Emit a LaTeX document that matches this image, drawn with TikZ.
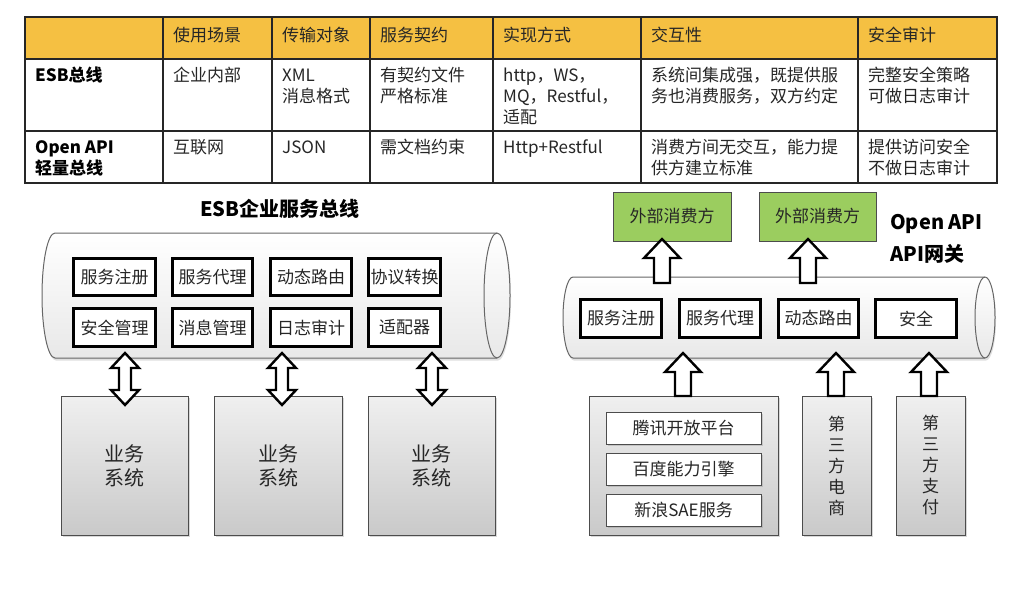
\documentclass[tikz,border=0pt]{standalone}
\usepackage{fontspec}
\setmainfont{Noto Sans CJK SC}
\usetikzlibrary{shadows}
\definecolor{hdr}{RGB}{245,192,66}
\definecolor{grn}{RGB}{155,205,95}
\definecolor{txt}{RGB}{38,38,38}
\newcommand\fsz[2]{\fontsize{#1}{#2}\selectfont}
\newcommand\stt{\rule{0pt}{16pt}}
\newcommand\blkup[3]{\draw[blkarrow] (#1,#2) -- (#1+18,#2+19) -- (#1+8,#2+19) -- (#1+8,#3) -- (#1-8,#3) -- (#1-8,#2+19) -- (#1-18,#2+19) -- cycle;}
\newcommand\blkdbl[3]{\draw[blkarrow] (#1,#2) -- (#1+14,#2+15) -- (#1+6,#2+15) -- (#1+6,#3-15) -- (#1+14,#3-15) -- (#1,#3) -- (#1-14,#3-15) -- (#1-6,#3-15) -- (#1-6,#2+15) -- (#1-14,#2+15) -- cycle;}
\tikzset{
  cell/.style={anchor=north west, align=left, inner sep=0pt, font=\fsz{17}{21}, text=txt},
  cellb/.style={cell, font=\fsz{17}{21}\bfseries, text=black},
  tline/.style={draw=black!85, line width=1.6pt},
  ibox/.style={draw=black, line width=2.8pt, fill=white, inner sep=0pt, font=\fsz{17}{21}, text=txt},
  sysbox/.style={draw=black!70, line width=1pt, top color=gray!12, bottom color=gray!42, inner sep=0pt,
     drop shadow={shadow xshift=1.5pt, shadow yshift=-2pt, opacity=0.3}, text=txt},
  wbox/.style={draw=black!70, line width=1pt, fill=white, inner sep=0pt, font=\fsz{17}{21}, text=txt,
     drop shadow={shadow xshift=1.5pt, shadow yshift=-1.5pt, opacity=0.3}},
  gbox/.style={draw=black!70, line width=1pt, fill=grn, inner sep=0pt, font=\fsz{17}{21}, text=txt},
  cyl/.style={draw=black!60, line width=1pt, top color=white, bottom color=gray!18,
     drop shadow={shadow xshift=1pt, shadow yshift=-2.5pt, opacity=0.25}},
  blkarrow/.style={draw=black, line width=2.4pt, fill=white, line join=miter},
  ttl/.style={inner sep=0pt, font=\fsz{20}{32}\bfseries, text=black, align=left}
}
\begin{document}
\begin{tikzpicture}[x=1pt,y=-1pt]
\useasboundingbox[fill=white] (0,0) rectangle (1024,589);
% ---------- table ----------
\fill[hdr] (25,17) rectangle (997,59);
\draw[tline] (25,17) rectangle (997,183);
\draw[tline] (25,59) -- (997,59);
\draw[tline] (25,131) -- (997,131);
\foreach \cx in {163,272,370,493,641,858} \draw[tline] (\cx,17) -- (\cx,183);
\node[cell] (h1) at (173,25.5) {\stt 使用场景};
\node[cell] (h2) at (282,25.5) {\stt 传输对象};
\node[cell] (h3) at (380,25.5) {\stt 服务契约};
\node[cell] (h4) at (503,25.5) {\stt 实现方式};
\node[cell] (h5) at (651,25.5) {\stt 交互性};
\node[cell] (h6) at (868,25.5) {\stt 安全审计};
\node[cellb] (r10) at (35,65.5) {\stt ESB总线};
\node[cell] (r11) at (173,65.5) {\stt 企业内部};
\node[cell] (r12) at (282,65.5) {\stt XML\\消息格式};
\node[cell] (r13) at (380,65.5) {\stt 有契约文件\\严格标准};
\node[cell] (r14) at (503,65.5) {\stt http，WS，\\MQ，Restful，\\适配};
\node[cell] (r15) at (651,65.5) {\stt 系统间集成强，既提供服\\务也消费服务，双方约定};
\node[cell] (r16) at (868,65.5) {\stt 完整安全策略\\可做日志审计};
\node[cellb] (r20) at (35,137.5) {\stt Open API\\轻量总线};
\node[cell] (r21) at (173,137.5) {\stt 互联网};
\node[cell] (r22) at (282,137.5) {\stt JSON};
\node[cell] (r23) at (380,137.5) {\stt 需文档约束};
\node[cell] (r24) at (503,137.5) {\stt Http+Restful};
\node[cell] (r25) at (651,137.5) {\stt 消费方间无交互，能力提\\供方建立标准};
\node[cell] (r26) at (868,137.5) {\stt 提供访问安全\\不做日志审计};
% ---------- left: ESB ----------
\node[ttl] (esbt) at (280,209) {ESB企业服务总线};
\path[cyl] (497,233) -- (55,233) arc[start angle=90, end angle=270, x radius=13pt, y radius=62.5pt]
  -- (497,358) arc[start angle=-90, end angle=90, x radius=13pt, y radius=62.5pt] -- cycle;
\draw[draw=black!60, line width=1pt] (497,233) arc[start angle=90, end angle=270, x radius=13pt, y radius=62.5pt];
\node[ibox, minimum width=82pt, minimum height=37pt] (e1) at (114.5,277) {服务注册};
\node[ibox, minimum width=80pt, minimum height=37pt] (e2) at (212.5,277) {服务代理};
\node[ibox, minimum width=81pt, minimum height=37pt] (e3) at (311,277) {动态路由};
\node[ibox, minimum width=72pt, minimum height=37pt] (e4) at (404.5,277) {协议转换};
\node[ibox, minimum width=82pt, minimum height=38pt] (e5) at (114.5,327.5) {安全管理};
\node[ibox, minimum width=80pt, minimum height=38pt] (e6) at (212.5,327.5) {消息管理};
\node[ibox, minimum width=81pt, minimum height=38pt] (e7) at (311,327.5) {日志审计};
\node[ibox, minimum width=72pt, minimum height=38pt] (e8) at (404.5,327.5) {适配器};
\node[sysbox, minimum width=127pt, minimum height=139pt, align=center, font=\fsz{20}{24}] (s1) at (124.5,465.5) {业务\\系统};
\node[sysbox, minimum width=128pt, minimum height=139pt, align=center, font=\fsz{20}{24}] (s2) at (278,465.5) {业务\\系统};
\node[sysbox, minimum width=127pt, minimum height=139pt, align=center, font=\fsz{20}{24}] (s3) at (431.5,465.5) {业务\\系统};
\blkdbl{125}{353}{405}
\blkdbl{282}{353}{405}
\blkdbl{432}{353}{405}
% ---------- right: Open API ----------
\node[gbox, minimum width=118pt, minimum height=49pt] (g1) at (672,216.5) {外部消费方};
\node[gbox, minimum width=117pt, minimum height=49pt] (g2) at (817.5,216.5) {外部消费方};
\node[ttl, anchor=north west] (apit) at (890,214) {Open API\\API网关};
\path[cyl] (985,277) -- (573,277) arc[start angle=90, end angle=270, x radius=10pt, y radius=40.5pt]
  -- (985,358) arc[start angle=-90, end angle=90, x radius=10pt, y radius=40.5pt] -- cycle;
\draw[draw=black!60, line width=1pt] (985,277) arc[start angle=90, end angle=270, x radius=10pt, y radius=40.5pt];
\node[ibox, minimum width=81pt, minimum height=38pt] (a1) at (621,318.5) {服务注册};
\node[ibox, minimum width=81pt, minimum height=38pt] (a2) at (720,318.5) {服务代理};
\node[ibox, minimum width=80pt, minimum height=38pt] (a3) at (818.5,318.5) {动态路由};
\node[ibox, minimum width=81pt, minimum height=38pt] (a4) at (916,318.5) {安全};
\node[sysbox, minimum width=189pt, minimum height=139pt] (p0) at (683.5,465.5) {};
\node[wbox, minimum width=155pt, minimum height=32pt] (p1) at (683.5,428) {腾讯开放平台};
\node[wbox, minimum width=155pt, minimum height=32pt] (p2) at (683.5,469.5) {百度能力引擎};
\node[wbox, minimum width=155pt, minimum height=32pt] (p3) at (683.5,510.5) {新浪SAE服务};
\node[sysbox, minimum width=69pt, minimum height=139pt, align=center, font=\fsz{17}{21}] (d1) at (836.5,465.5) {第\\三\\方\\电\\商};
\node[sysbox, minimum width=69pt, minimum height=139pt, align=center, font=\fsz{17}{21}] (d2) at (930.5,465.5) {第\\三\\方\\支\\付};
\blkup{662}{239}{283}
\blkup{808}{239}{283}
\blkup{683}{353}{396}
\blkup{836}{353}{396}
\blkup{929}{353}{396}
\end{tikzpicture}
\end{document}
